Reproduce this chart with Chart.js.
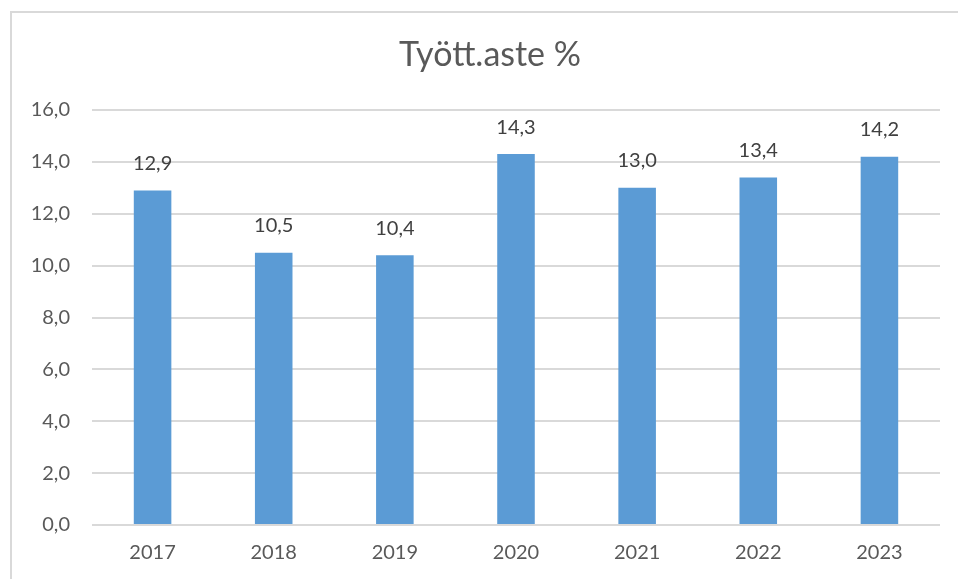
<!DOCTYPE html>
<html>
<head>
<meta charset="utf-8">
<script src="https://cdn.jsdelivr.net/npm/chart.js@4"></script>
<style>
  body { margin: 0; background: #fff; }
  #frame {
    position: absolute; left: 10px; top: 11px; width: 960px; height: 580px;
    border-top: 2px solid #d9d9d9; border-left: 2px solid #d9d9d9;
  }
  canvas { position: absolute; left: 0; top: 0; }
</style>
</head>
<body>
<div id="frame"></div>
<canvas id="chart" width="958" height="579"></canvas>
<script>
// data
const years = ["2017", "2018", "2019", "2020", "2021", "2022", "2023"];
const rates = [12.9, 10.5, 10.4, 14.3, 13.0, 13.4, 14.2];
const chartTitle = "Tyött.aste %";

const fmt = (v) => v.toFixed(1).replace(".", ",");

// value labels above bars + title centred on the outer frame
const barLabels = {
  id: "barLabels",
  afterDatasetsDraw(chart) {
    const ctx = chart.ctx;
    const meta = chart.getDatasetMeta(0);
    ctx.save();
    ctx.font = "20px Lato";
    ctx.fillStyle = "#404040";
    ctx.textAlign = "center";
    ctx.textBaseline = "middle";
    meta.data.forEach((bar, i) => {
      ctx.fillText(fmt(rates[i]), bar.x, bar.y - 27);
    });
    ctx.font = "34px Lato";
    ctx.fillStyle = "#595959";
    ctx.fillText(chartTitle, 490, 55);
    ctx.restore();
  },
};

new Chart(document.getElementById("chart"), {
  type: "bar",
  data: {
    labels: years,
    datasets: [
      {
        data: rates,
        backgroundColor: "#5B9BD5",
        barPercentage: 0.31,
        categoryPercentage: 1,
      },
    ],
  },
  options: {
    responsive: false,
    animation: false,
    layout: { padding: { left: 10, right: 18, top: 110, bottom: 0 } },
    plugins: {
      legend: { display: false },
      tooltip: { enabled: false },
      title: { display: false },
    },
    scales: {
      y: {
        min: 0,
        max: 16,
        ticks: {
          stepSize: 2,
          color: "#595959",
          font: { family: "Lato", size: 20 },
          padding: 22,
          callback: (v) => fmt(v),
        },
        grid: { color: "#d9d9d9", lineWidth: 2, drawTicks: false },
        border: { display: false },
        afterFit(scale) {
          scale.width = 82;
        },
      },
      x: {
        ticks: {
          color: "#595959",
          font: { family: "Lato", size: 20 },
          padding: 16,
        },
        grid: { display: false, tickLength: 0 },
        border: { display: false },
        afterFit(scale) {
          scale.height = 54;
        },
      },
    },
  },
  plugins: [barLabels],
});
</script>
</body>
</html>
